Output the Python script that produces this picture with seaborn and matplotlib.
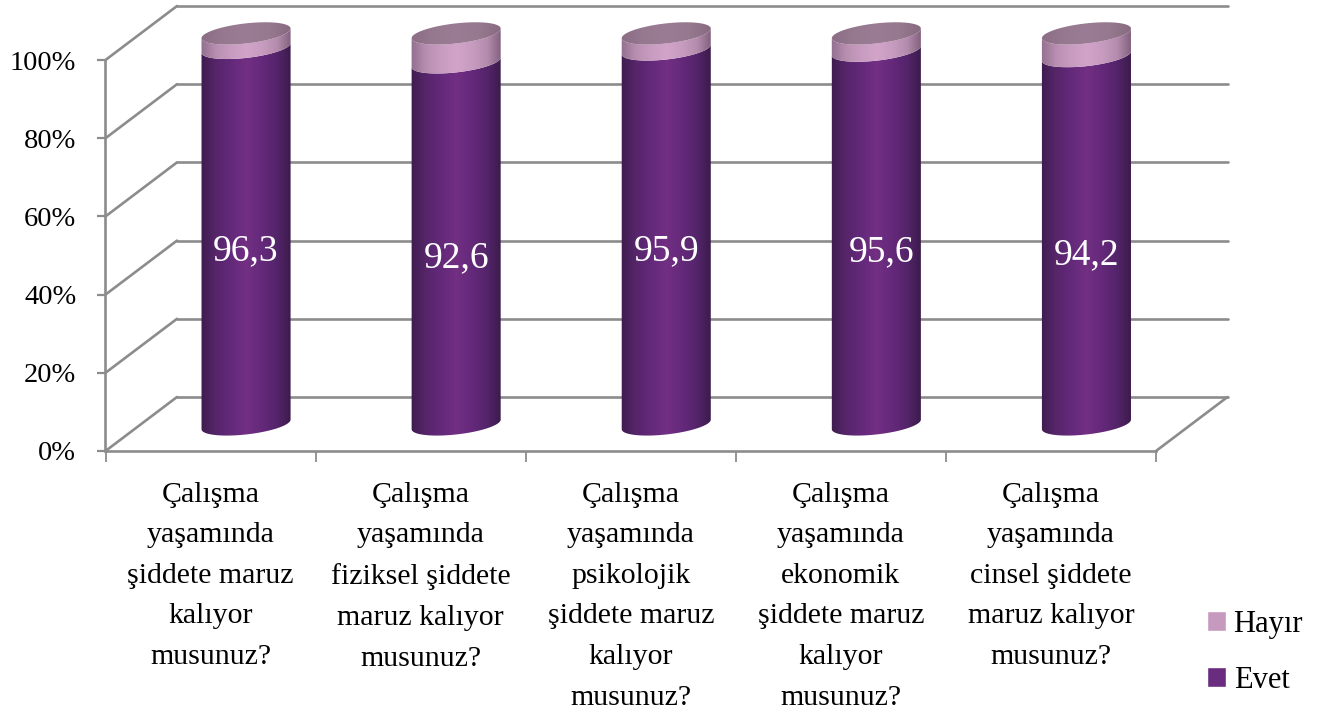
'''
Cylinder style stacked chart of workplace violence answers (Evet / Hayır).
'''

import numpy as np
import pandas as pd
import matplotlib
matplotlib.use("Agg")
import matplotlib.pyplot as plt
from matplotlib.colors import LinearSegmentedColormap
from matplotlib.patches import Patch, Polygon
import seaborn as sns

# Data
categories = [
    "Çalışma\nyaşamında\nşiddete maruz\nkalıyor\nmusunuz?",
    "Çalışma\nyaşamında\nfiziksel şiddete\nmaruz kalıyor\nmusunuz?",
    "Çalışma\nyaşamında\npsikolojik\nşiddete maruz\nkalıyor\nmusunuz?",
    "Çalışma\nyaşamında\nekonomik\nşiddete maruz\nkalıyor\nmusunuz?",
    "Çalışma\nyaşamında\ncinsel şiddete\nmaruz kalıyor\nmusunuz?",
]
evet = [96.3, 92.6, 95.9, 95.6, 94.2]
hayir = [3.7, 7.4, 4.1, 4.4, 5.8]
value_labels = ["96,3", "92,6", "95,9", "95,6", "94,2"]
percent_ticks = [0, 20, 40, 60, 80, 100]

sns.set_style("white")
plt.rcParams["font.family"] = ["Liberation Serif", "DejaVu Serif"]
plt.rcParams["text.color"] = "black"
plt.rcParams["xtick.labelcolor"] = "black"
plt.rcParams["ytick.labelcolor"] = "black"

W, H = 1317, 718
GRID = "#8c8c8c"
PX_X = 210.1  # pixels per category
PX_Y = 3.91   # pixels per percent
DEPTH_X = 71.5 / PX_X  # depth of the fake 3D box, data units
DEPTH_Y = 54 / PX_Y
CYL_DX = 35.5 / PX_X   # cylinder axis relative to the slot centre
CYL_DY = 6.8
ELL_A, ELL_B, ELL_TILT = 44.8, 10.0, np.radians(6.5)

dark_map = LinearSegmentedColormap.from_list(
    "evet", ["#3d1c4c", "#56256a", "#63297a", "#722f83", "#64297a", "#54246a", "#381a47"])
light_map = LinearSegmentedColormap.from_list(
    "hayir", ["#906c8c", "#b78eb0", "#c79cc0", "#d2a4ca", "#c79cc0", "#b48cac", "#7c5c78"])
cap_map = LinearSegmentedColormap.from_list(
    "cap", ["#8a6c86", "#96788f", "#9a7c94", "#96788f", "#86687f"])

df = pd.DataFrame({"kategori": categories, "evet": evet, "toplam": np.add(evet, hayir)})

fig = plt.figure(figsize=(W / 100, H / 100), dpi=100)
ax = fig.add_axes([105.5 / W, (H - 451) / H, 5 * PX_X / W, 100 * PX_Y / H])

sns.barplot(data=df, x="kategori", y="toplam", color="#c699bf", width=88.5 / PX_X,
            saturation=1, ax=ax, zorder=3)
sns.barplot(data=df, x="kategori", y="evet", color="#6a2c7e", width=88.5 / PX_X,
            saturation=1, ax=ax, zorder=3)


def ellipse_points(cx, v, t):
    # tilted ellipse, worked out in pixels and returned in data units
    x = ELL_A * np.cos(t) * np.cos(ELL_TILT) - ELL_B * np.sin(t) * np.sin(ELL_TILT)
    y = ELL_A * np.cos(t) * np.sin(ELL_TILT) + ELL_B * np.sin(t) * np.cos(ELL_TILT)
    return np.column_stack([cx + x / PX_X, v + y / PX_Y])


def front_arc(cx, v):
    t0 = np.arctan(-(ELL_B / ELL_A) * np.tan(ELL_TILT))
    return ellipse_points(cx, v, np.linspace(t0 + np.pi, t0 + 2 * np.pi, 60))


def shaded(points, cmap, x0, x1, z=4):
    poly = Polygon(points, closed=True, transform=ax.transData, facecolor="none", edgecolor="none")
    ax.add_patch(poly)
    poly.set_clip_on(False)
    ys = points[:, 1]
    im = ax.imshow(np.linspace(0, 1, 256).reshape(1, -1), cmap=cmap, aspect="auto",
                   extent=[x0, x1, ys.min(), ys.max()], zorder=z)
    im.set_clip_box(fig.bbox)
    im.set_clip_path(poly)
    return poly


half = 88.5 / PX_X / 2
n = len(categories)
bars_total = list(ax.patches[:n])
bars_evet = list(ax.patches[n:2 * n])

for i in range(n):
    cx = i + CYL_DX
    x0, x1 = cx - half - 0.01, cx + half + 0.01
    base = CYL_DY
    mid = base + bars_evet[i].get_height()
    top = base + bars_total[i].get_height()

    lower = np.vstack([front_arc(cx, base), front_arc(cx, mid)[::-1]])
    upper = np.vstack([front_arc(cx, mid), front_arc(cx, top)[::-1]])
    cap = ellipse_points(cx, top, np.linspace(0, 2 * np.pi, 120))

    shaded(lower, dark_map, x0, x1)
    shaded(upper, light_map, x0, x1)
    shaded(cap, cap_map, x0, x1, z=5)

    # the fourth label sits a little right of its cylinder in the original
    label_x = cx + (0.024 if i == 3 else 0)
    ax.text(label_x, base + evet[i] / 2 - 3.7, value_labels[i], color="white", fontsize=27,
            ha="center", va="center", zorder=6)

# the flat bars only give the heights, the shaded cylinders replace them
for bar in bars_total + bars_evet:
    bar.set_visible(False)

# fake 3D walls
for p in percent_ticks:
    ax.plot([-0.5, -0.5 + DEPTH_X], [p, p + DEPTH_Y], color=GRID, lw=1.9, clip_on=False, zorder=1)
    ax.plot([-0.5 + DEPTH_X, 4.5 + DEPTH_X], [p + DEPTH_Y, p + DEPTH_Y], color=GRID, lw=1.9,
            clip_on=False, zorder=1)
ax.plot([4.5, 4.5 + DEPTH_X], [0, DEPTH_Y], color=GRID, lw=1.9, clip_on=False, zorder=1)

ax.set_xlim(-0.5, 4.5)
ax.set_ylim(0, 100)
ax.set_xlabel("")
ax.set_ylabel("")
ax.set_yticks(percent_ticks)
ax.set_yticklabels([f"{p}%" for p in percent_ticks], fontsize=20.5)
ax.set_xticks(range(n))
ax.set_xticklabels(categories, fontsize=21.5, linespacing=1.73)
ax.set_xticks(np.arange(-0.5, 5), minor=True)
ax.tick_params(axis="x", which="major", length=0, pad=22)
ax.tick_params(axis="x", which="minor", length=8, width=1.3, color=GRID, bottom=True)
ax.tick_params(axis="y", length=6, width=1.6, color=GRID, pad=15, left=True)
ax.patch.set_alpha(0)
for side in ["top", "right"]:
    ax.spines[side].set_visible(False)
for side in ["left", "bottom"]:
    ax.spines[side].set_color(GRID)
    ax.spines[side].set_linewidth(1.9)

handles = [Patch(facecolor="#c699bf", label="Hayır"), Patch(facecolor="#6a2c7e", label="Evet")]
ax.legend(handles=handles, frameon=False, fontsize=22, loc="lower left",
          bbox_to_anchor=(1207 / W, (H - 695) / H), bbox_transform=fig.transFigure,
          handlelength=0.62, handleheight=0.62, handletextpad=0.25, labelspacing=0.88,
          borderpad=0, borderaxespad=0)

plt.savefig("out.png", dpi=100)
